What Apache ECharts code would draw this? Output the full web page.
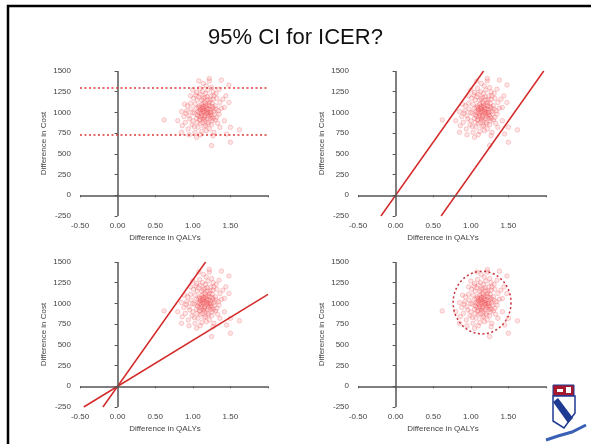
<!DOCTYPE html>
<html>
<head>
<meta charset="utf-8">
<script src="https://cdn.jsdelivr.net/npm/echarts@6/dist/echarts.min.js"></script>
<style>
  html, body { margin: 0; padding: 0; background: #fff; }
  #chart { width: 591px; height: 444px; }
</style>
</head>
<body>
<div id="chart"></div>
<script>
// bootstrap replicates: [difference in QALYs, difference in cost]
const bootSamples = [
  [1.10,1030],[1.15,1000],[1.20,980],[1.05,1050],[1.12,1100],[1.18,1060],[1.22,1120],[1.08,950],
  [1.14,920],[1.25,960],[1.28,1010],[1.02,990],[0.98,1040],[1.06,1150],[1.16,1180],[1.24,1200],
  [1.30,1080],[1.32,940],[1.20,880],[1.10,870],[1.00,900],[0.95,960],[0.92,1020],[0.97,1110],
  [1.04,1210],[1.13,1250],[1.20,1270],[1.27,1160],[1.34,1020],[1.36,1120],[1.26,900],[1.17,840],
  [1.07,820],[0.99,850],[0.90,880],[0.88,950],[0.93,1080],[1.01,1170],[1.09,1290],[1.18,1320],
  [1.25,1300],[1.31,1230],[1.38,1050],[1.33,870],[1.22,800],[1.12,770],[1.03,760],[0.94,800],
  [0.86,840],[1.14,1050],[1.19,1010],[1.11,990],[1.16,960],[1.21,1040],[1.07,1010],[1.09,1080],
  [1.23,1080],[1.27,1050],[1.15,1120],[1.05,930],[1.13,880],[1.19,920],[1.29,980],[1.24,930],
  [1.03,1100],[1.00,1000],[1.17,1230],[1.08,1190],[1.27,1250],[1.12,1150],[1.22,1000],[1.30,910],
  [1.35,980],[1.40,1160],[1.42,1060],[0.96,920],[0.91,990],[1.06,880],[1.15,830],[1.25,850],
  [1.18,780],[1.10,730],[1.28,760],[1.36,820],[1.42,900],[1.05,1240],[0.97,1200],[1.14,1350],
  [1.22,1380],[1.35,1280],[1.44,1200],[0.89,1100],[0.85,1010],[1.20,1150],[1.10,1220],[1.00,1270],
  [1.32,1170],[1.16,900],[1.26,1110],[1.02,830],[1.09,910],[1.21,860],[1.13,1010],[1.17,1080],
  [1.23,970],[1.19,1190],[1.06,970],[1.31,1040],[1.11,940],[1.24,1030],[1.08,1060],[1.14,1070],
  [1.28,1200],
  [1.16,1020],[1.13,1040],[1.18,990],[1.21,950],[1.11,1060],[1.17,1110],[1.24,1000],[1.09,1000],
  [1.15,940],[1.20,1090],[1.26,1070],[1.12,960],[1.19,1040],[1.23,1150],[1.14,1170],[1.27,930],
  [0.62,910],[0.80,900],[1.25,600],[1.50,640],[1.62,790],[1.48,1330],[1.38,1390],[1.22,1410],
  [1.08,1380],[1.50,820],[1.48,1120],[1.45,740],[1.27,720],[0.95,730],[0.85,760],[1.05,700]
];

// panel 1: 95% CI on cost
const costBounds = [1300, 730];
// panel 2: two parallel lines
const parallelLines = [
  [[-0.195, -250], [1.17, 1500]],
  [[0.605, -250], [1.97, 1500]]
];
// panel 3: wedge through origin
const wedgeLines = [
  [[-0.195, -250], [1.17, 1500]],
  [[-0.45, -250], [2.0, 1110]]
];
// panel 4: confidence ellipse [cx, cy, rx, ry]
const ellipse = [[1.15, 1010, 0.385, 378]];

const RED = '#d42a2a';
const AXIS_GREY = '#555';

const grids = [
  { left: 80, top: 71, width: 188, height: 145 },
  { left: 358, top: 71, width: 188, height: 145 },
  { left: 80, top: 262, width: 188, height: 145 },
  { left: 358, top: 262, width: 188, height: 145 }
];

const labelStyle = { color: '#444', fontSize: 8, fontFamily: 'Liberation Sans, Arial, sans-serif' };

const xAxes = grids.map((g, i) => ({
  gridIndex: i,
  type: 'value',
  min: -0.5, max: 2.0, interval: 0.5,
  name: 'Difference in QALYs',
  nameLocation: 'middle',
  nameGap: 18,
  nameTextStyle: { ...labelStyle, padding: [0, 18, 0, 0] },
  axisLine: { show: false },
  axisTick: { show: true, length: 2, lineStyle: { color: AXIS_GREY } },
  axisLabel: { ...labelStyle, margin: 6, formatter: v => (v >= 2 ? '' : v.toFixed(2)) },
  splitLine: { show: false }
}));

const yAxes = grids.map((g, i) => ({
  gridIndex: i,
  type: 'value',
  min: -250, max: 1500, interval: 250,
  name: 'Difference in Cost',
  nameLocation: 'middle',
  nameGap: 32,
  nameTextStyle: labelStyle,
  axisLine: { show: false },
  axisTick: { show: true, length: 3, lineStyle: { color: AXIS_GREY } },
  axisLabel: { ...labelStyle, margin: 9, formatter: v => String(v) },
  splitLine: { show: false }
}));

const zeroLines = {
  silent: true,
  symbol: 'none',
  label: { show: false },
  lineStyle: { color: AXIS_GREY, width: 1.5, type: 'solid' },
  data: [{ xAxis: 0 }, { yAxis: 0 }]
};

const series = [];
grids.forEach((g, i) => {
  series.push({
    type: 'scatter',
    xAxisIndex: i, yAxisIndex: i,
    data: bootSamples,
    symbolSize: 4.5,
    itemStyle: { color: 'rgba(245,80,80,0.18)', borderColor: 'rgba(230,50,60,0.35)', borderWidth: 0.8 },
    markLine: zeroLines,
    z: 2
  });
});

// panel 1 dotted CI lines
series.push({
  type: 'line', xAxisIndex: 0, yAxisIndex: 0, data: [],
  markLine: {
    silent: true, symbol: 'none', label: { show: false },
    lineStyle: { color: '#e03a3a', width: 1.6, type: [2, 2.5] },
    data: costBounds.map(v => ({ yAxis: v }))
  }
});

const addLines = (lines, idx) => lines.forEach(pts => series.push({
  type: 'line', xAxisIndex: idx, yAxisIndex: idx,
  data: pts, symbol: 'none', silent: true,
  lineStyle: { color: RED, width: 1.5 }, z: 3
}));
addLines(parallelLines, 1);
addLines(wedgeLines, 2);

series.push({
  type: 'custom', xAxisIndex: 3, yAxisIndex: 3,
  data: ellipse, silent: true, clip: false, z: 3,
  renderItem: (params, api) => {
    const c = api.coord([api.value(0), api.value(1)]);
    const s = api.size([api.value(2), api.value(3)]);
    const pts = [];
    for (let k = 0; k <= 72; k++) {
      const t = (k / 72) * Math.PI * 2;
      pts.push([c[0] + s[0] * Math.cos(t), c[1] + s[1] * Math.sin(t)]);
    }
    return {
      type: 'polyline',
      shape: { points: pts },
      style: { stroke: '#c8303a', lineWidth: 1.5, lineDash: [2, 2.5], fill: null }
    };
  }
});

const chart = echarts.init(document.getElementById('chart'), null, { renderer: 'canvas' });
chart.setOption({
  animation: false,
  backgroundColor: '#fff',
  title: {
    text: '95% CI for ICER?',
    left: 'center',
    top: 22,
    textStyle: { fontFamily: 'Liberation Sans, Arial, sans-serif', fontSize: 22, fontWeight: 'normal', color: '#111' }
  },
  grid: grids,
  xAxis: xAxes,
  yAxis: yAxes,
  series,
  graphic: [
    { type: 'rect', shape: { x: 8, y: 6, width: 620, height: 480 }, style: { fill: null, stroke: '#000', lineWidth: 2.5 }, silent: true },
    // small shield logo, bottom right
    { type: 'rect', shape: { x: 553, y: 385, width: 21, height: 11 }, style: { fill: '#a8182c', stroke: '#1f3a93', lineWidth: 1 } },
    { type: 'rect', shape: { x: 566, y: 387, width: 5, height: 6 }, style: { fill: '#fff' } },
    { type: 'rect', shape: { x: 557, y: 389, width: 6, height: 3 }, style: { fill: '#ffffff' } },
    { type: 'polygon', shape: { points: [[553, 396], [575, 396], [575, 413], [564, 428], [553, 421]] }, style: { fill: '#fff', stroke: '#1f3a93', lineWidth: 1.5 } },
    { type: 'polygon', shape: { points: [[553, 402], [558, 398], [573, 418], [568, 423]] }, style: { fill: '#1f3a93' } },
    { type: 'polyline', shape: { points: [[546, 440], [558, 436], [572, 432], [586, 425]] }, style: { stroke: '#3a60b5', lineWidth: 3, fill: null } }
  ]
});
</script>
</body>
</html>
